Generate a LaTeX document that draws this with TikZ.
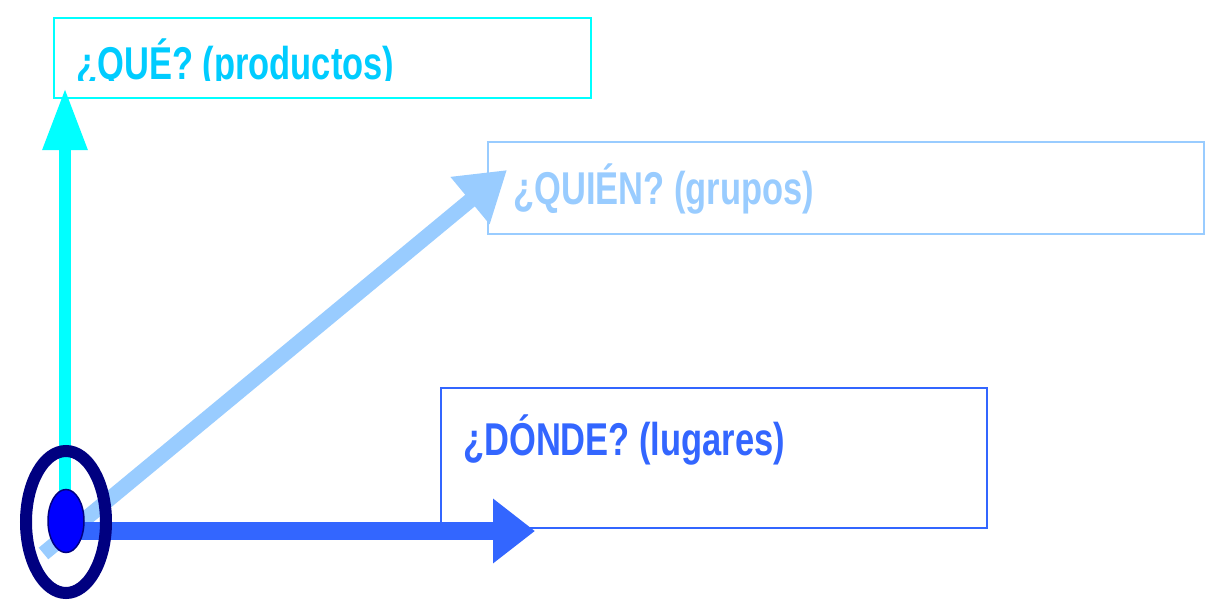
\documentclass[tikz,border=0pt]{standalone}
\usepackage{fontspec}
\setmainfont{Liberation Sans}[FakeStretch=0.75]
\usetikzlibrary{arrows.meta,shapes.geometric}

\definecolor{quetext}{HTML}{00CCFF}
\definecolor{quecyan}{HTML}{00FFFF}
\definecolor{quienblue}{HTML}{99CCFF}
\definecolor{dondeblue}{HTML}{3366FF}
\definecolor{ringnavy}{HTML}{000080}
\definecolor{dotblue}{HTML}{0000FF}

\def\askfont{\fontsize{46}{50}\selectfont\bfseries}

\begin{document}
\begin{tikzpicture}[x=1pt,y=-1pt,
    askbox/.style={draw,line width=2pt,anchor=north west,inner sep=0pt},
    asktext/.style={anchor=base west,inner sep=0pt,font=\askfont},
  ]
    \useasboundingbox (0,0) rectangle (1213,605);

    % frames
    \node[askbox,draw=quecyan,minimum width=537pt,minimum height=80pt] (quebox) at (53,17) {};
    \node[askbox,draw=quienblue,minimum width=716pt,minimum height=92pt] (quienbox) at (487,141) {};
    \node[askbox,draw=dondeblue,minimum width=546pt,minimum height=140pt] (dondebox) at (440,387) {};

    \begin{scope}
      \clip (53,17) rectangle (590,80.5);
      \node[asktext,text=quetext] (quelabel) at (76,79) {¿QUÉ? (productos)};
    \end{scope}
    \node[asktext,text=quienblue] (quienlabel) at (513,204) {¿QUIÉN? (grupos)};
    \node[asktext,text=dondeblue] (dondelabel) at (463,455) {¿DÓNDE? (lugares)};

    % axes
    \coordinate (queStart) at (65,521);
    \coordinate (queTip) at (65,88);
    \coordinate (quienStart) at (43.5,553.5);
    \coordinate (quienTip) at (507,170);
    \coordinate (dondeStart) at (66,531);
    \coordinate (dondeTip) at (535,531);

    \draw[quecyan,line width=12pt,-{Triangle[length=62pt,width=42pt]}] (queStart) -- (queTip);
    \draw[quienblue,line width=15pt,-{Triangle[length=48pt,width=58pt]}] (quienStart) -- (quienTip);
    \draw[dondeblue,line width=18pt,-{Triangle[length=42pt,width=62pt]}] (dondeStart) -- (dondeTip);

    \node[ellipse,draw=ringnavy,line width=12pt,inner sep=0pt,
      minimum width=80pt,minimum height=142pt] (ring) at (66,522) {};
    \node[ellipse,draw=ringnavy,fill=dotblue,line width=1.5pt,inner sep=0pt,
      minimum width=36pt,minimum height=63pt] (dot) at (66,521) {};
\end{tikzpicture}
\end{document}
